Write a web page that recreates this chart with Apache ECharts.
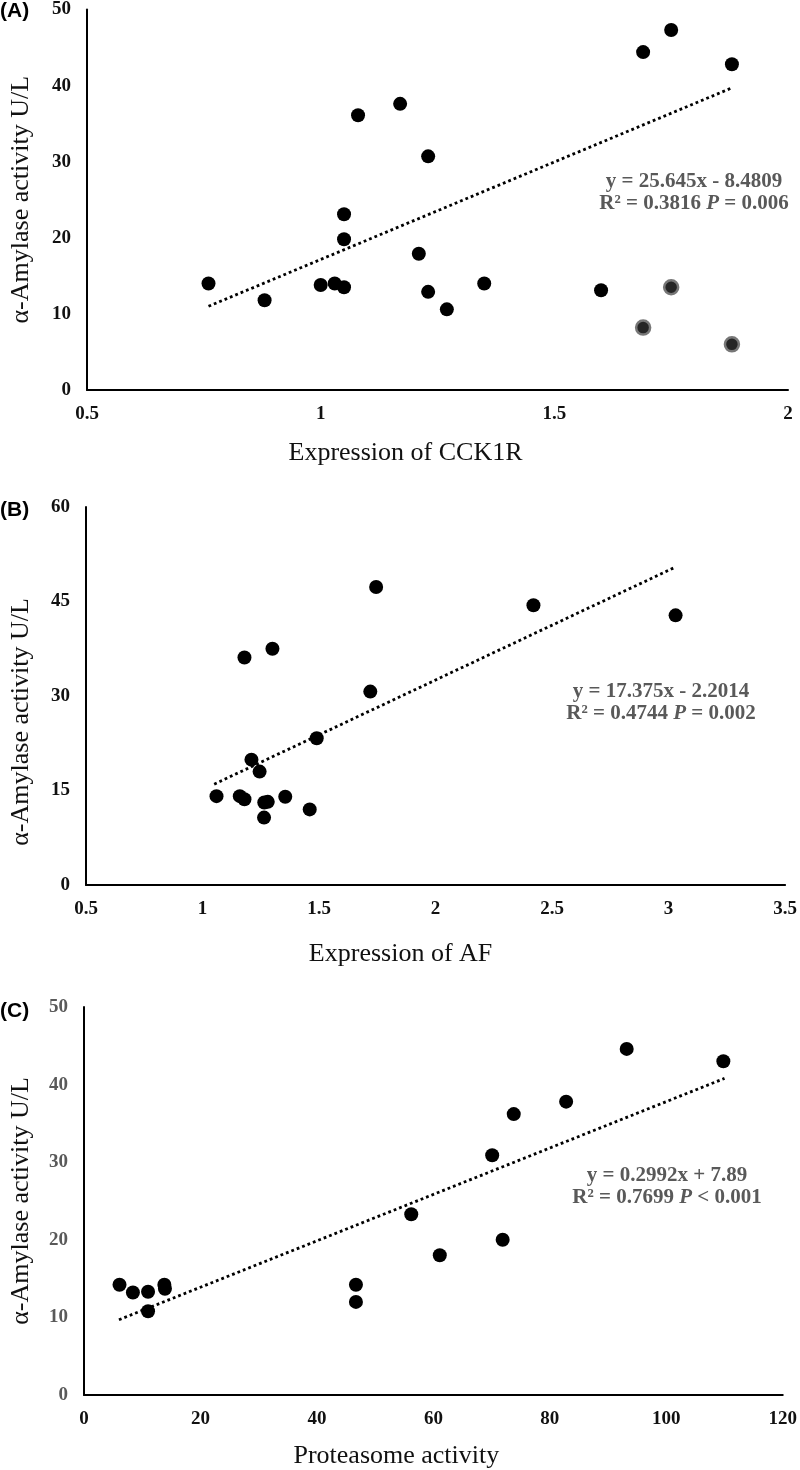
<!DOCTYPE html>
<html>
<head>
<meta charset="utf-8">
<script src="https://cdn.jsdelivr.net/npm/echarts@6/dist/echarts.min.js"></script>
<style>
html,body{margin:0;padding:0;background:#fff;}
#chart{width:800px;height:1470px;}
</style>
</head>
<body>
<div id="chart"></div>
<script>
// Panel A: Expression of CCK1R vs alpha-amylase activity
var cck1rX = [0.76, 0.88, 1.00, 1.03, 1.05, 1.05, 1.05, 1.08, 1.17, 1.23, 1.21, 1.23, 1.27, 1.35, 1.60, 1.69, 1.75, 1.88];
var cck1rY = [14.0, 11.8, 13.8, 14.0, 13.5, 19.8, 23.1, 36.1, 37.6, 30.7, 17.9, 12.9, 10.6, 14.0, 13.1, 44.4, 47.3, 42.8];
var cck1rGreyX = [1.75, 1.69, 1.88];
var cck1rGreyY = [13.5, 8.2, 6.0];
var cck1rTrendX = [0.76, 1.88];
var cck1rTrendY = [11.0, 39.7];
var cck1rXTicks = [0.5, 1, 1.5, 2];
var cck1rYTicks = [0, 10, 20, 30, 40, 50];

// Panel B: Expression of AF
var afX = [1.06, 1.16, 1.18, 1.18, 1.30, 1.21, 1.245, 1.265, 1.28, 1.264, 1.355, 1.46, 1.49, 1.72, 1.745, 2.42, 3.03];
var afY = [14.1, 14.1, 13.6, 36.1, 37.5, 19.9, 18.0, 13.1, 13.2, 10.7, 14.0, 12.0, 23.3, 30.7, 47.3, 44.4, 42.8];
var afTrendX = [1.05, 3.02];
var afTrendY = [16.0, 50.3];
var afXTicks = [0.5, 1, 1.5, 2, 2.5, 3, 3.5];
var afYTicks = [0, 15, 30, 45, 60];

// Panel C: Proteasome activity
var protX = [6.1, 8.4, 11.0, 11.0, 13.8, 13.9, 46.7, 46.7, 56.2, 61.1, 70.1, 71.9, 73.8, 82.8, 93.2, 109.8];
var protY = [14.2, 13.2, 13.3, 10.8, 14.2, 13.7, 14.2, 12.0, 23.3, 18.0, 30.9, 20.0, 36.2, 37.8, 44.6, 43.0];
var protTrendX = [6.0, 110.0];
var protTrendY = [9.7, 40.8];
var protXTicks = [0, 20, 40, 60, 80, 100, 120];
var protYTicks = [0, 10, 20, 30, 40, 50];

var yName = 'α-Amylase activity U/L';
var xNames = ['Expression of CCK1R', 'Expression of AF', 'Proteasome activity'];
var panelLabels = ['(A)', '(B)', '(C)'];
var eqLine1 = ['y = 25.645x - 8.4809', 'y = 17.375x - 2.2014', 'y = 0.2992x + 7.89'];
var eqR2 = ['R² = 0.3816 ', 'R² = 0.4744 ', 'R² = 0.7699 '];
var eqP = [' = 0.006', ' = 0.002', ' < 0.001'];

function zip(xs, ys) { return xs.map(function (x, i) { return [x, ys[i]]; }); }

var serif = '"Liberation Serif", "DejaVu Serif", serif';
var grids = [
  { left: 86, right: 12, top: 8, height: 382 },
  { left: 85, right: 10, top: 507, height: 378 },
  { left: 83, right: 10, top: 1007, height: 388 }
];
var xSpecs = [
  { ticks: cck1rXTicks, gap: 50, pad: [0, 64, 0, 0] },
  { ticks: afXTicks, gap: 56, pad: [0, 70, 0, 0] },
  { ticks: protXTicks, gap: 48, pad: [0, 74, 0, 0] }
];
var ySpecs = [
  { ticks: cck1rYTicks, color: '#111', gap: 53, pad: [0, 0, 0, 0] },
  { ticks: afYTicks, color: '#111', gap: 52, pad: [0, 52, 0, 0] },
  { ticks: protYTicks, color: '#595959', gap: 50, pad: [0, 0, 0, 0] }
];
var axisLine = { show: true, onZero: false, lineStyle: { color: '#000', width: 2 } };

var xAxis = xSpecs.map(function (s, i) {
  return {
    type: 'value', gridIndex: i,
    min: s.ticks[0], max: s.ticks[s.ticks.length - 1], interval: s.ticks[1] - s.ticks[0],
    axisLine: axisLine, axisTick: { show: false }, splitLine: { show: false },
    axisLabel: { color: '#111', fontFamily: serif, fontWeight: 'bold', fontSize: 19, margin: 15 },
    name: xNames[i], nameLocation: 'middle', nameGap: s.gap,
    nameTextStyle: { fontFamily: serif, fontSize: 26, color: '#111', padding: s.pad }
  };
});
var yAxis = ySpecs.map(function (s, i) {
  return {
    type: 'value', gridIndex: i,
    min: s.ticks[0], max: s.ticks[s.ticks.length - 1], interval: s.ticks[1] - s.ticks[0],
    axisLine: axisLine, axisTick: { show: false }, splitLine: { show: false },
    axisLabel: { color: s.color, fontFamily: serif, fontWeight: 'bold', fontSize: 19, margin: 16 },
    name: yName, nameLocation: 'middle', nameGap: s.gap, nameRotate: 90,
    nameTextStyle: { fontFamily: serif, fontSize: 26, color: '#111', padding: s.pad }
  };
});

function scatter(i, data, color, border) {
  return {
    type: 'scatter', xAxisIndex: i, yAxisIndex: i, data: data, symbolSize: 14,
    itemStyle: { color: color, borderColor: border, borderWidth: border ? 2.5 : 0, opacity: 1 },
    z: 3
  };
}
function trend(i, data) {
  return {
    type: 'line', xAxisIndex: i, yAxisIndex: i, data: data, symbol: 'none',
    lineStyle: { color: '#000', width: 2.8, type: [2.8, 3] }, z: 2, silent: true
  };
}

var series = [
  trend(0, zip(cck1rTrendX, cck1rTrendY)),
  scatter(0, zip(cck1rX, cck1rY), '#000'),
  scatter(0, zip(cck1rGreyX, cck1rGreyY), '#262626', '#777'),
  trend(1, zip(afTrendX, afTrendY)),
  scatter(1, zip(afX, afY), '#000'),
  trend(2, zip(protTrendX, protTrendY)),
  scatter(2, zip(protX, protY), '#000')
];

var eqPos = [[694, 182], [661, 692], [667, 1176]];
var labelPos = [13, 512, 1013];
var graphic = [];
for (var i = 0; i < 3; i++) {
  graphic.push({
    type: 'text', left: 0, top: labelPos[i] - 12,
    style: { text: panelLabels[i], font: 'bold 21px "Liberation Sans", Arial, sans-serif', fill: '#000' }
  });
  graphic.push({
    type: 'text', x: eqPos[i][0], y: eqPos[i][1],
    style: { text: eqLine1[i], font: 'bold 21px ' + serif, fill: '#595959', align: 'center', verticalAlign: 'middle' }
  });
  graphic.push({
    type: 'text', x: eqPos[i][0], y: eqPos[i][1] + 22,
    style: {
      text: '{a|' + eqR2[i] + '}{b|P}{a|' + eqP[i] + '}',
      align: 'center', verticalAlign: 'middle',
      rich: {
        a: { font: 'bold 21px ' + serif, fill: '#595959', color: '#595959' },
        b: { font: 'italic bold 21px ' + serif, fill: '#595959', color: '#595959' }
      }
    }
  });
}

var chart = echarts.init(document.getElementById('chart'), null, { renderer: 'canvas' });
chart.setOption({
  backgroundColor: '#fff',
  animation: false,
  grid: grids,
  xAxis: xAxis,
  yAxis: yAxis,
  series: series,
  graphic: graphic
});
</script>
</body>
</html>
